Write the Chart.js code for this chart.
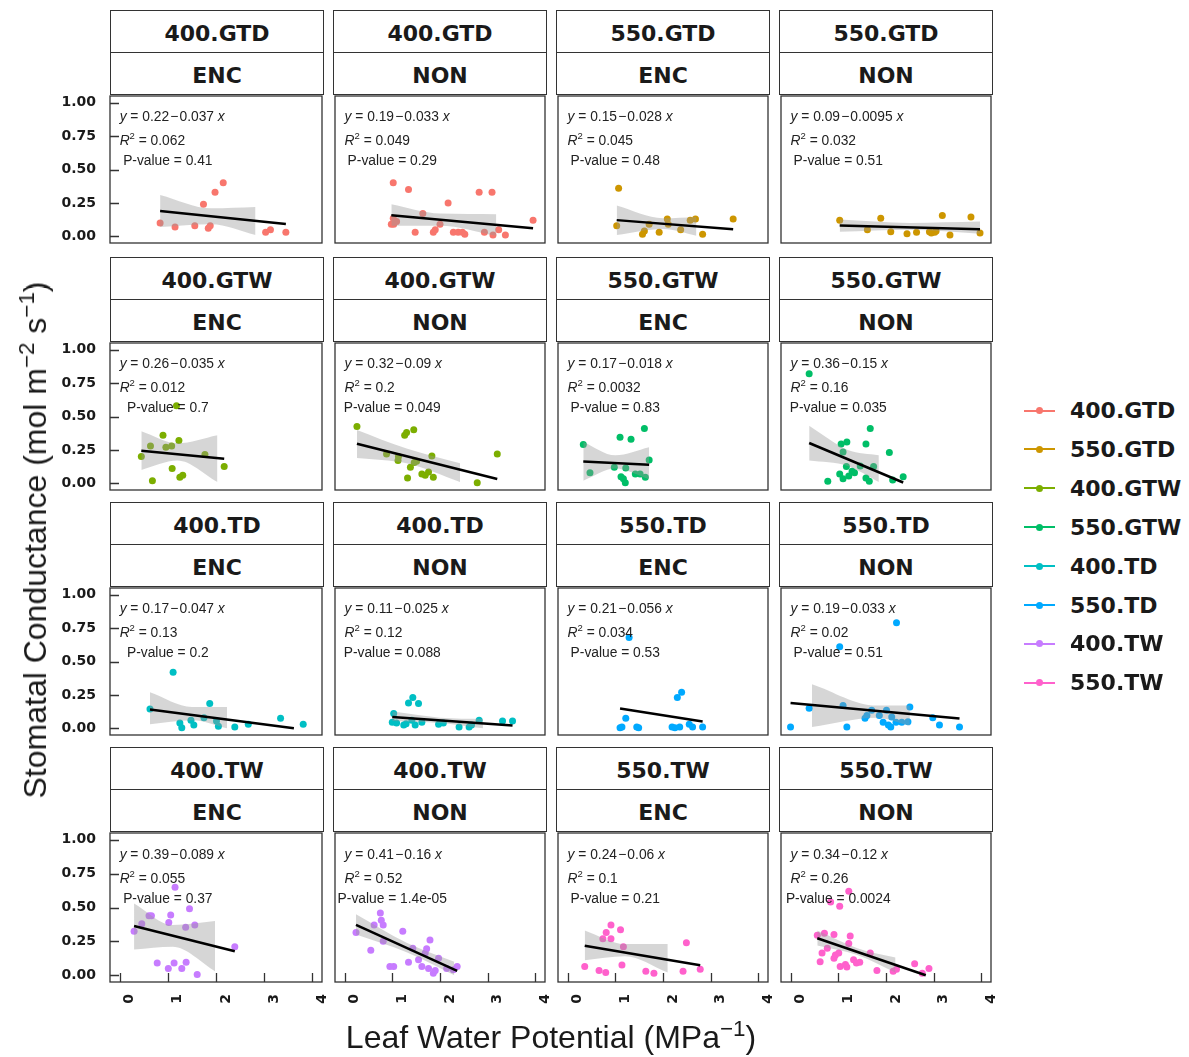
<!DOCTYPE html>
<html>
<head>
<meta charset="utf-8">
<script src="https://cdn.jsdelivr.net/npm/chart.js@4.4.0/dist/chart.umd.min.js"></script>
<style>
  body { margin: 0; background: #fff; }
  #page { position: relative; width: 1189px; height: 1057px; overflow: hidden; font-family: "Liberation Sans", Arial, sans-serif; color: #1a1a1a; }
  canvas { position: absolute; }
  .strip { position: absolute; box-sizing: border-box; border: 1.3px solid #333; background: #fff; padding-top: 4px;
           display: flex; align-items: center; justify-content: center;
           font: bold 22px "DejaVu Sans", sans-serif; color: #1a1a1a; }
  .lab { position: absolute; white-space: nowrap; font-size: 13.8px; line-height: 1; color: #222; }
  .lab sup { font-size: 9.5px; vertical-align: 6px; line-height: 0; }
  .title { position: absolute; white-space: nowrap; line-height: 1; color: #1a1a1a; }
  .title sup { font-size: 0.7em; vertical-align: 0.55em; line-height: 0; }
  .key { position: absolute; left: 1024px; height: 22px; display: flex; align-items: center; }
  .key .ln { position: relative; width: 31px; height: 2px; }
  .key .dot { position: absolute; left: 12px; top: -2.5px; width: 7px; height: 7px; border-radius: 50%; }
  .key span { margin-left: 15px; font: bold 22px "DejaVu Sans", sans-serif; color: #1a1a1a; }
</style>
</head>
<body>
<div id="page"></div>
<script>
// groups / colours (ggplot hue palette)
const groups = ['400.GTD', '550.GTD', '400.GTW', '550.GTW', '400.TD', '550.TD', '400.TW', '550.TW'];
const colours = ['#F8766D', '#CD9600', '#7CAE00', '#00BE67', '#00BFC4', '#00A9FF', '#C77CFF', '#FF61CC'];
const siteLabels = ['ENC', 'NON', 'ENC', 'NON'];
const xTicks = [0, 1, 2, 3, 4];
const yTicks = [0, 0.25, 0.5, 0.75, 1];

// points: [leaf water potential, stomatal conductance]
const gtd400Enc = [[0.84,0.10],[1.15,0.07],[1.56,0.08],[1.74,0.24],[1.84,0.06],[1.88,0.08],[1.98,0.33],[2.15,0.40],[3.03,0.03],[3.13,0.05],[3.45,0.03]];
const gtd400Non = [[0.98,0.09],[1.02,0.40],[1.02,0.135],[1.03,0.09],[1.09,0.11],[1.34,0.35],[1.48,0.03],[1.64,0.17],[1.86,0.03],[1.90,0.05],[2.00,0.09],[2.17,0.25],[2.28,0.03],[2.38,0.03],[2.47,0.03],[2.52,0.015],[2.82,0.33],[2.93,0.03],[3.09,0.33],[3.11,0.01],[3.23,0.05],[3.37,0.01],[3.95,0.12]];
const gtd550Enc = [[1.03,0.08],[1.07,0.36],[1.57,0.015],[1.61,0.04],[1.71,0.09],[1.92,0.03],[2.09,0.13],[2.11,0.09],[2.37,0.05],[2.57,0.12],[2.68,0.13],[2.83,0.015],[3.47,0.13]];
const gtd550Non = [[1.03,0.12],[1.61,0.05],[1.89,0.135],[2.10,0.035],[2.44,0.02],[2.64,0.03],[2.91,0.035],[2.95,0.025],[3.02,0.03],[3.05,0.04],[3.18,0.155],[3.34,0.01],[3.78,0.145],[3.97,0.025]];
const gtw400Enc = [[0.45,0.20],[0.64,0.28],[0.68,0.02],[0.90,0.36],[0.96,0.27],[1.08,0.28],[1.09,0.11],[1.18,0.58],[1.23,0.32],[1.25,0.045],[1.31,0.06],[1.77,0.215],[2.17,0.125]];
const gtw400Non = [[0.26,0.425],[0.88,0.22],[1.12,0.17],[1.13,0.20],[1.26,0.36],[1.30,0.38],[1.45,0.40],[1.32,0.04],[1.38,0.12],[1.46,0.155],[1.51,0.165],[1.62,0.07],[1.69,0.06],[1.76,0.085],[1.83,0.205],[1.86,0.045],[2.78,0.005],[3.20,0.22]];
const gtw550Enc = [[0.33,0.29],[0.47,0.08],[0.98,0.12],[1.10,0.345],[1.12,0.05],[1.17,0.035],[1.21,0.005],[1.22,0.115],[1.33,0.33],[1.42,0.07],[1.52,0.07],[1.61,0.41],[1.63,0.045],[1.71,0.175]];
const gtw550Non = [[0.39,0.82],[0.78,0.015],[1.03,0.07],[1.06,0.295],[1.10,0.235],[1.18,0.31],[1.10,0.035],[1.17,0.125],[1.22,0.055],[1.29,0.09],[1.34,0.08],[1.46,0.13],[1.58,0.295],[1.58,0.04],[1.67,0.41],[1.65,0.015],[1.74,0.125],[2.07,0.23],[2.14,0.025],[2.36,0.05]];
const td400Enc = [[0.63,0.145],[1.11,0.42],[1.25,0.04],[1.29,0.005],[1.48,0.06],[1.54,0.025],[1.75,0.08],[1.87,0.185],[2.01,0.055],[2.05,0.015],[2.39,0.01],[2.67,0.03],[3.34,0.075],[3.81,0.03]];
const td400Non = [[1.00,0.045],[1.03,0.11],[1.09,0.04],[1.24,0.025],[1.29,0.035],[1.34,0.19],[1.41,0.06],[1.43,0.23],[1.48,0.025],[1.55,0.185],[1.62,0.045],[1.97,0.03],[2.07,0.04],[2.40,0.01],[2.61,0.01],[2.66,0.025],[2.82,0.06],[3.31,0.055],[3.52,0.055]];
const td550Enc = [[1.10,0.005],[1.14,0.01],[1.22,0.075],[1.29,0.68],[1.45,0.01],[1.49,0.005],[2.19,0.01],[2.25,0.005],[2.30,0.23],[2.35,0.01],[2.39,0.27],[2.55,0.03],[2.62,0.01],[2.83,0.01]];
const td550Non = [[0.0,0.01],[0.39,0.15],[1.03,0.61],[1.10,0.17],[1.18,0.01],[1.56,0.075],[1.60,0.095],[1.70,0.135],[1.86,0.095],[1.94,0.045],[2.01,0.135],[2.05,0.025],[2.10,0.01],[2.12,0.085],[2.21,0.045],[2.22,0.79],[2.33,0.045],[2.46,0.05],[2.50,0.16],[2.98,0.08],[3.12,0.025],[3.54,0.01]];
const tw400Enc = [[0.30,0.325],[0.46,0.38],[0.61,0.44],[0.66,0.44],[0.78,0.09],[1.01,0.05],[1.02,0.39],[1.06,0.445],[1.13,0.09],[1.15,0.65],[1.29,0.05],[1.37,0.355],[1.38,0.095],[1.45,0.49],[1.56,0.37],[1.61,0.005],[2.39,0.21]];
const tw400Non = [[0.24,0.315],[0.55,0.185],[0.62,0.37],[0.75,0.46],[0.77,0.405],[0.81,0.37],[0.81,0.25],[0.95,0.065],[1.03,0.065],[1.22,0.325],[1.34,0.095],[1.43,0.20],[1.55,0.115],[1.62,0.065],[1.69,0.165],[1.72,0.195],[1.76,0.05],[1.79,0.26],[1.86,0.015],[1.90,0.035],[1.97,0.125],[2.14,0.05],[2.28,0.04],[2.36,0.065]];
const tw550Enc = [[0.36,0.065],[0.66,0.035],[0.74,0.27],[0.80,0.02],[0.81,0.315],[0.91,0.37],[0.91,0.27],[1.11,0.335],[1.14,0.075],[1.17,0.21],[1.64,0.03],[1.81,0.015],[2.42,0.03],[2.49,0.24],[2.78,0.045]];
const tw550Non = [[0.56,0.295],[0.62,0.10],[0.66,0.165],[0.71,0.31],[0.77,0.20],[0.84,0.54],[0.91,0.30],[0.91,0.125],[0.94,0.15],[1.01,0.165],[1.03,0.51],[1.04,0.065],[1.15,0.08],[1.18,0.06],[1.22,0.62],[1.22,0.235],[1.25,0.29],[1.32,0.115],[1.38,0.09],[1.45,0.095],[1.67,0.165],[1.81,0.035],[2.15,0.03],[2.22,0.045],[2.60,0.085],[2.76,0.015],[2.90,0.05]];

// confidence band: [x, lower, upper] (cut off where it leaves 0..1)
const bandGtd400Enc = [[0.84,0.07,0.31],[1.9,0.09,0.21],[2.82,0.01,0.22]];
const bandGtd400Non = [[0.98,0.08,0.24],[2.0,0.08,0.17],[3.18,0.005,0.165]];
const bandGtd550Enc = [[1.03,0.01,0.23],[2.0,0.055,0.135],[2.7,0.005,0.145]];
const bandGtd550Non = [[1.03,0.035,0.125],[2.5,0.05,0.10],[3.97,0.02,0.11]];
const bandGtw400Enc = [[0.45,0.10,0.39],[1.2,0.17,0.30],[2.03,0.01,0.36]];
const bandGtw400Non = [[0.26,0.19,0.40],[1.3,0.15,0.26],[2.42,0.01,0.15]];
const bandGtw550Enc = [[0.33,0.02,0.31],[1.0,0.11,0.21],[1.71,0.03,0.27]];
const bandGtw550Non = [[0.39,0.17,0.43],[1.2,0.13,0.25],[1.85,0.01,0.21]];
const bandTd400Enc = [[0.63,0.03,0.27],[1.5,0.06,0.16],[2.23,0.0,0.16]];
const bandTd400Non = [[1.0,0.055,0.125],[2.0,0.04,0.08],[2.9,0.0,0.07]];
const bandTd550Enc = [];
const bandTd550Non = [[0.45,0.01,0.33],[1.8,0.08,0.17],[2.5,0.02,0.17]];
const bandTw400Enc = [[0.3,0.19,0.53],[1.1,0.21,0.37],[1.98,0.03,0.40]];
const bandTw400Non = [[0.24,0.30,0.45],[1.3,0.17,0.24],[2.3,0.0,0.10]];
const bandTw550Enc = [[0.36,0.11,0.33],[1.2,0.14,0.23],[2.1,0.02,0.23]];
const bandTw550Non = [[0.56,0.22,0.33],[1.4,0.15,0.20],[2.2,0.02,0.13]];

// fitted equations and stats as printed
const intercepts = [0.22, 0.19, 0.15, 0.09, 0.26, 0.32, 0.17, 0.36, 0.17, 0.11, 0.21, 0.19, 0.39, 0.41, 0.24, 0.34];
const slopes = [0.037, 0.033, 0.028, 0.0095, 0.035, 0.09, 0.018, 0.15, 0.047, 0.025, 0.056, 0.033, 0.089, 0.16, 0.06, 0.12];
const r2Labels = ['0.062', '0.049', '0.045', '0.032', '0.012', '0.2', '0.0032', '0.16', '0.13', '0.12', '0.034', '0.02', '0.055', '0.52', '0.1', '0.26'];
const pLabels = ['0.41', '0.29', '0.48', '0.51', '0.7', '0.049', '0.83', '0.035', '0.2', '0.088', '0.53', '0.51', '0.37', '1.4e-05', '0.21', '0.0024'];

const panelPoints = [gtd400Enc, gtd400Non, gtd550Enc, gtd550Non, gtw400Enc, gtw400Non, gtw550Enc, gtw550Non,
                     td400Enc, td400Non, td550Enc, td550Non, tw400Enc, tw400Non, tw550Enc, tw550Non];
const panelBands = [bandGtd400Enc, bandGtd400Non, bandGtd550Enc, bandGtd550Non, bandGtw400Enc, bandGtw400Non, bandGtw550Enc, bandGtw550Non,
                    bandTd400Enc, bandTd400Non, bandTd550Enc, bandTd550Non, bandTw400Enc, bandTw400Non, bandTw550Enc, bandTw550Non];

// layout
const colLeft = [110, 333, 556, 779];
const rowTop = [10, 257, 502, 747];
const panelW = 214, stripH = 42, plotH = 151, pad = 2, yAxisW = 60, xAxisH = 34;
const labelY = [0.89, 0.71, 0.562];

const page = document.getElementById('page');

function addDiv(cls, html, style) {
  const d = document.createElement('div');
  d.className = cls;
  d.innerHTML = html;
  Object.assign(d.style, style);
  page.appendChild(d);
  return d;
}

// panel frame + inward ticks
const frame = {
  id: 'frame',
  afterDatasetsDraw(chart, args, opts) {
    const { ctx, chartArea: a, scales } = chart;
    ctx.save();
    ctx.strokeStyle = '#333';
    ctx.lineWidth = 1.3;
    ctx.strokeRect(a.left, a.top, a.right - a.left, a.bottom - a.top);
    ctx.beginPath();
    if (opts.yTicks) {
      yTicks.forEach(v => {
        const y = Math.round(scales.y.getPixelForValue(v)) + 0.5;
        ctx.moveTo(a.left, y); ctx.lineTo(a.left + 9, y);
      });
    }
    if (opts.xTicks) {
      xTicks.forEach(v => {
        const x = Math.round(scales.x.getPixelForValue(v)) + 0.5;
        ctx.moveTo(x, a.bottom); ctx.lineTo(x, a.bottom - 9);
      });
    }
    ctx.stroke();
    ctx.restore();
  }
};

panelPoints.forEach((pts, p) => {
  const row = Math.floor(p / 4), col = p % 4;
  const g = row * 2 + (col < 2 ? 0 : 1);
  const left = colLeft[col], top = rowTop[row];

  // strips
  addDiv('strip', groups[g], { left: left + 'px', top: top + 'px', width: panelW + 'px', height: (stripH + 1) + 'px' });
  addDiv('strip', siteLabels[col], { left: left + 'px', top: (top + stripH) + 'px', width: panelW + 'px', height: (stripH + 1) + 'px' });

  // canvas
  const showY = col === 0, showX = row === 3;
  const cvLeft = left - pad - (showY ? yAxisW : 0);
  const cvTop = top + 2 * stripH - pad;
  const cv = document.createElement('canvas');
  cv.width = panelW + 2 * pad + (showY ? yAxisW : 0);
  cv.height = plotH + 2 * pad + (showX ? xAxisH : 0);
  cv.style.left = cvLeft + 'px';
  cv.style.top = cvTop + 'px';
  page.appendChild(cv);

  // regression line, cut where it drops below 0
  const a = intercepts[p], b = -slopes[p];
  const xs = pts.map(d => d[0]);
  const x1 = Math.min(...xs);
  let x2 = Math.max(...xs);
  if (a + b * x2 < 0) x2 = -a / b;

  const band = panelBands[p];
  const chart = new Chart(cv, {
    type: 'scatter',
    data: {
      datasets: [
        { type: 'line', data: [{ x: x1, y: a + b * x1 }, { x: x2, y: a + b * x2 }],
          borderColor: '#000', borderWidth: 2.5, pointRadius: 0, fill: false },
        { type: 'line', data: band.map(d => ({ x: d[0], y: d[2] })), borderWidth: 0, pointRadius: 0,
          fill: '+1', backgroundColor: 'rgba(153,153,153,0.4)', cubicInterpolationMode: 'monotone' },
        { type: 'line', data: band.map(d => ({ x: d[0], y: d[1] })), borderWidth: 0, pointRadius: 0,
          fill: false, cubicInterpolationMode: 'monotone' },
        { data: pts.map(d => ({ x: d[0], y: d[1] })), backgroundColor: colours[g], borderWidth: 0, pointRadius: 3.5 }
      ]
    },
    options: {
      responsive: false,
      animation: false,
      events: [],
      layout: { padding: pad },
      plugins: { legend: { display: false }, tooltip: { enabled: false }, frame: { yTicks: showY, xTicks: showX } },
      scales: {
        x: {
          type: 'linear', min: -0.2, max: 4.2, display: showX,
          grid: { display: false, drawTicks: false }, border: { display: false },
          ticks: { stepSize: 1, includeBounds: false, minRotation: 90, maxRotation: 90, padding: 12, labelOffset: 10,
                   color: '#1a1a1a', font: { family: 'DejaVu Sans', weight: 'bold', size: 14 } },
          afterFit(s) { if (showX) { s.height = xAxisH; s.paddingLeft = 0; s.paddingRight = 0; } }
        },
        y: {
          type: 'linear', min: -0.05, max: 1.05, display: showY,
          grid: { display: false, drawTicks: false }, border: { display: false },
          ticks: { stepSize: 0.25, includeBounds: false, padding: 14, color: '#1a1a1a',
                   font: { family: 'DejaVu Sans', weight: 'bold', size: 14 }, callback: v => v.toFixed(2) },
          afterFit(s) { if (showY) { s.width = yAxisW; s.paddingTop = 0; s.paddingBottom = 0; } }
        }
      }
    },
    plugins: [frame]
  });

  // regression labels placed through the chart's scales
  const sx = chart.scales.x, sy = chart.scales.y;
  const xl = cvLeft + sx.getPixelForValue(0);
  const xc = cvLeft + sx.getPixelForValue(1);
  const eq = '<i>y</i> = ' + a + '\u200a\u2212\u200a' + slopes[p] + ' <i>x</i>';
  addDiv('lab', eq, { left: xl + 'px', top: (cvTop + sy.getPixelForValue(labelY[0])) + 'px', transform: 'translateY(-50%)' });
  addDiv('lab', '<i>R</i><sup>2</sup> = ' + r2Labels[p], { left: xl + 'px', top: (cvTop + sy.getPixelForValue(labelY[1])) + 'px', transform: 'translateY(-50%)' });
  addDiv('lab', 'P-value = ' + pLabels[p], { left: xc + 'px', top: (cvTop + sy.getPixelForValue(labelY[2])) + 'px', transform: 'translate(-50%,-50%)' });
});

// axis titles
addDiv('title', 'Leaf Water Potential (MPa<sup>\u22121</sup>)',
  { left: '551px', top: '1037px', fontSize: '32px', transform: 'translate(-50%,-50%)' });
addDiv('title', 'Stomatal Conductance (mol m<sup>\u22122</sup> s<sup>\u22121</sup>)',
  { left: '35px', top: '540px', fontSize: '32px', transform: 'translate(-50%,-50%) rotate(-90deg)' });

// legend
groups.forEach((name, i) => {
  const k = addDiv('key', '<div class="ln"><div class="dot"></div></div><span>' + name + '</span>',
    { top: (410.5 + i * 38.9 - 11) + 'px' });
  k.querySelector('.ln').style.background = colours[i];
  k.querySelector('.dot').style.background = colours[i];
});
</script>
</body>
</html>
